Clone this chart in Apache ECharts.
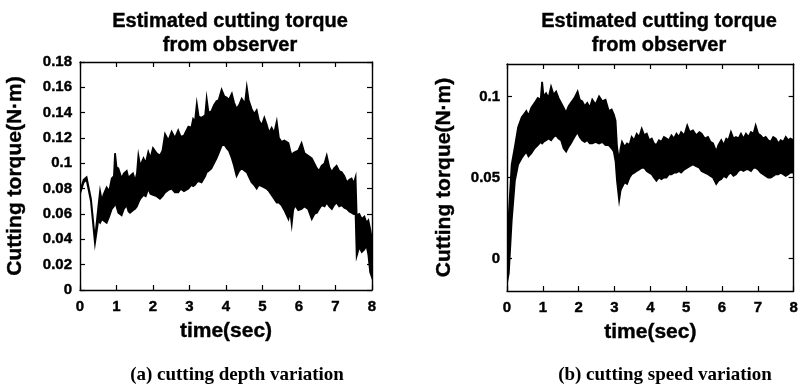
<!DOCTYPE html>
<html>
<head>
<meta charset="utf-8">
<script src="https://cdn.jsdelivr.net/npm/echarts@6/dist/echarts.min.js"></script>
<style>html,body{margin:0;padding:0;background:#fff;}#c{width:801px;height:388px;}</style>
</head>
<body>
<div id="c"></div>
<script>
// ---- Data ----
const titleText = 'Estimated cutting torque\nfrom observer';
const yName = 'Cutting torque(N\u00b7m)';
const xName = 'time(sec)';
const captionA = '(a) cutting depth variation';
const captionB = '(b) cutting speed variation';
const xTicks = [0, 1, 2, 3, 4, 5, 6, 7, 8];
const yTicksA = [0, 0.02, 0.04, 0.06, 0.08, 0.1, 0.12, 0.14, 0.16, 0.18];
const yTicksB = [0, 0.05, 0.1];

// (a) cutting depth variation: upper / lower envelope of the noisy trace
const timeA = [0,0.1,0.18,0.3,0.41,0.5,0.55,0.6,0.64,0.73,
  0.8,0.87,0.93,0.96,1.0,1.05,1.14,1.2,1.28,1.33,
  1.37,1.45,1.51,1.56,1.6,1.65,1.74,1.8,1.87,1.93,
  2.0,2.1,2.19,2.26,2.33,2.42,2.51,2.6,2.69,2.76,
  2.85,2.97,3.05,3.1,3.15,3.2,3.25,3.33,3.43,3.47,
  3.52,3.6,3.67,3.74,3.8,3.88,3.95,4.02,4.08,4.16,
  4.22,4.29,4.36,4.43,4.52,4.57,4.62,4.7,4.77,4.84,
  4.9,4.98,5.05,5.11,5.18,5.25,5.32,5.39,5.45,5.52,
  5.6,5.71,5.76,5.8,5.84,5.89,5.98,6.07,6.15,6.25,
  6.35,6.42,6.49,6.55,6.62,6.7,6.76,6.83,6.9,6.96,
  7.03,7.1,7.17,7.24,7.31,7.38,7.44,7.5,7.55,7.58,
  7.65,7.72,7.79,7.85,7.9,7.95,8.0];
const upperA = [0.078,0.087,0.089,0.072,0.040,0.065,0.078,0.070,0.075,0.081,
  0.078,0.088,0.090,0.108,0.097,0.096,0.088,0.092,0.094,0.088,
  0.090,0.092,0.086,0.092,0.106,0.098,0.104,0.100,0.109,0.104,
  0.112,0.108,0.106,0.110,0.123,0.118,0.125,0.120,0.126,0.121,
  0.122,0.129,0.128,0.135,0.133,0.147,0.137,0.136,0.138,0.151,
  0.140,0.141,0.146,0.149,0.150,0.158,0.153,0.152,0.150,0.155,
  0.148,0.143,0.146,0.151,0.147,0.160,0.150,0.143,0.139,0.142,
  0.134,0.130,0.136,0.131,0.124,0.128,0.124,0.133,0.120,0.117,
  0.118,0.116,0.110,0.106,0.108,0.109,0.110,0.116,0.108,0.106,
  0.104,0.100,0.096,0.094,0.098,0.100,0.106,0.097,0.093,0.096,
  0.098,0.094,0.093,0.090,0.085,0.087,0.088,0.084,0.089,0.059,
  0.060,0.056,0.058,0.053,0.055,0.048,0.040];
const lowerA = [0.076,0.085,0.087,0.070,0.037,0.055,0.053,0.056,0.055,0.053,
  0.058,0.064,0.066,0.069,0.066,0.061,0.059,0.064,0.067,0.062,
  0.061,0.063,0.064,0.066,0.069,0.072,0.075,0.074,0.080,0.076,
  0.075,0.074,0.072,0.074,0.077,0.079,0.080,0.077,0.077,0.080,
  0.078,0.080,0.083,0.082,0.083,0.085,0.086,0.085,0.090,0.093,
  0.094,0.096,0.100,0.104,0.108,0.114,0.115,0.112,0.110,0.104,
  0.098,0.090,0.094,0.096,0.094,0.093,0.090,0.085,0.083,0.080,
  0.083,0.082,0.081,0.080,0.078,0.075,0.072,0.069,0.069,0.067,
  0.063,0.056,0.062,0.052,0.063,0.067,0.063,0.064,0.066,0.064,
  0.056,0.060,0.061,0.064,0.067,0.066,0.069,0.066,0.064,0.067,
  0.069,0.066,0.067,0.065,0.064,0.062,0.061,0.060,0.060,0.027,
  0.034,0.030,0.032,0.035,0.028,0.014,0.010];

// (b) cutting speed variation: upper / lower envelope of the noisy trace
const timeB = [0,0.05,0.13,0.22,0.31,0.41,0.54,0.6,0.68,0.77,
  0.86,0.94,0.98,1.02,1.09,1.16,1.23,1.3,1.37,1.44,
  1.51,1.58,1.65,1.72,1.78,1.88,1.97,2.03,2.1,2.17,
  2.24,2.31,2.38,2.47,2.57,2.66,2.75,2.84,2.92,2.98,
  3.03,3.07,3.13,3.17,3.21,3.28,3.35,3.42,3.48,3.55,
  3.62,3.69,3.76,3.83,3.9,3.97,4.04,4.1,4.17,4.24,
  4.31,4.38,4.45,4.52,4.59,4.66,4.73,4.8,4.86,4.95,
  5.03,5.1,5.19,5.28,5.37,5.43,5.52,5.61,5.68,5.75,
  5.84,5.9,5.98,6.05,6.12,6.18,6.25,6.32,6.39,6.46,
  6.53,6.6,6.67,6.74,6.81,6.88,6.94,7.01,7.08,7.15,
  7.22,7.29,7.36,7.43,7.5,7.57,7.64,7.71,7.78,7.85,
  7.91,8.0];
const upperB = [-0.005,0.027,0.058,0.069,0.081,0.087,0.091,0.088,0.093,0.096,
  0.099,0.098,0.109,0.100,0.102,0.099,0.106,0.101,0.103,0.099,
  0.096,0.093,0.090,0.094,0.096,0.099,0.103,0.098,0.097,0.094,
  0.096,0.093,0.098,0.095,0.100,0.097,0.098,0.091,0.092,0.089,
  0.085,0.069,0.060,0.068,0.072,0.069,0.071,0.070,0.075,0.073,
  0.077,0.075,0.080,0.076,0.077,0.073,0.074,0.071,0.070,0.073,
  0.072,0.075,0.074,0.073,0.076,0.074,0.077,0.075,0.078,0.076,
  0.082,0.078,0.079,0.076,0.078,0.077,0.074,0.075,0.072,0.071,
  0.066,0.070,0.073,0.070,0.074,0.073,0.078,0.074,0.075,0.074,
  0.077,0.074,0.077,0.075,0.078,0.077,0.082,0.077,0.076,0.074,
  0.075,0.073,0.072,0.075,0.074,0.071,0.073,0.072,0.075,0.073,
  0.074,0.073];
const lowerB = [-0.015,-0.009,0.023,0.048,0.058,0.062,0.066,0.063,0.065,0.068,
  0.070,0.072,0.071,0.072,0.073,0.074,0.073,0.075,0.076,0.074,
  0.073,0.068,0.066,0.069,0.071,0.075,0.078,0.075,0.073,0.072,
  0.073,0.071,0.071,0.072,0.071,0.072,0.070,0.070,0.068,0.066,
  0.060,0.048,0.036,0.042,0.044,0.047,0.046,0.050,0.052,0.053,
  0.054,0.055,0.056,0.056,0.054,0.053,0.052,0.050,0.048,0.050,
  0.049,0.050,0.050,0.052,0.052,0.053,0.053,0.054,0.053,0.055,
  0.056,0.057,0.058,0.057,0.056,0.054,0.053,0.052,0.051,0.050,
  0.046,0.048,0.049,0.051,0.050,0.052,0.053,0.051,0.052,0.054,
  0.055,0.054,0.055,0.055,0.054,0.056,0.056,0.055,0.053,0.052,
  0.051,0.050,0.050,0.051,0.052,0.052,0.053,0.052,0.051,0.052,
  0.053,0.053];

// ---- Chart ----
const SANS = 'Liberation Sans';
const SERIF = 'Liberation Serif';

function bandData(t, lo, hi) {
  return t.map((x, i) => [x, lo[i], hi[i]]);
}
function makeBand(idx, rows) {
  return {
    type: 'custom',
    coordinateSystem: 'cartesian2d',
    xAxisIndex: idx * 2,
    yAxisIndex: idx * 2,
    clip: true,
    silent: true,
    z: 5,
    data: [rows[0]],
    renderItem: function (params, api) {
      const up = [], dn = [];
      for (const r of rows) {
        up.push(api.coord([r[0], r[2]]));
        dn.push(api.coord([r[0], r[1]]));
      }
      return {
        type: 'polygon',
        shape: { points: up.concat(dn.reverse()) },
        style: { fill: '#000', stroke: '#000', lineWidth: 1.8, lineJoin: 'miter' }
      };
    }
  };
}

const heavy = { textBorderColor: '#000', textBorderWidth: 0.4 };
const tickStyle = { show: true, inside: true, length: 5, lineStyle: { color: '#000', width: 1.2 } };
const lineStyle = { show: true, onZero: false, lineStyle: { color: '#000', width: 1.4 } };
const labelStyle = Object.assign({ color: '#000', fontFamily: SANS, fontWeight: 'bold', fontSize: 15 }, heavy);
const nameStyle = Object.assign({ color: '#000', fontFamily: SANS, fontWeight: 'bold', fontSize: 21 }, heavy);
const titleStyle = Object.assign({ fontFamily: SANS, fontWeight: 'bold', fontSize: 20, lineHeight: 24, color: '#000' }, heavy);
const capStyle = { fontFamily: SERIF, fontWeight: 'bold', fontSize: 19, color: '#000' };

function xAxes(g) {
  return [
    { type: 'value', gridIndex: g, min: 0, max: 8, interval: 1, position: 'bottom',
      axisLine: lineStyle, axisTick: tickStyle, splitLine: { show: false },
      axisLabel: Object.assign({ margin: 9, customValues: xTicks }, labelStyle),
      name: xName, nameLocation: 'middle', nameGap: 31, nameTextStyle: nameStyle },
    { type: 'value', gridIndex: g, min: 0, max: 8, interval: 1, position: 'top',
      axisLine: lineStyle, axisTick: tickStyle, splitLine: { show: false },
      axisLabel: { show: false } }
  ];
}
function yAxes(g, min, max, interval, ticks, nameGap, margin) {
  const lab = Object.assign({ margin: margin }, labelStyle);
  const tk = Object.assign({}, tickStyle);
  if (ticks) { lab.customValues = ticks; tk.customValues = ticks; }
  const base = { type: 'value', gridIndex: g, min: min, max: max, splitLine: { show: false } };
  if (interval) base.interval = interval;
  return [
    Object.assign({}, base, { position: 'left', axisLine: lineStyle, axisTick: tk, axisLabel: lab,
      name: yName, nameLocation: 'middle', nameGap: nameGap, nameTextStyle: nameStyle }),
    Object.assign({}, base, { position: 'right', axisLine: lineStyle, axisTick: tk, axisLabel: { show: false } })
  ];
}

const chart = echarts.init(document.getElementById('c'), null, { renderer: 'canvas' });
chart.setOption({
  backgroundColor: '#fff',
  animation: false,
  title: [
    { text: titleText, left: 225, top: 4, textAlign: 'center', textStyle: titleStyle },
    { text: titleText, left: 654, top: 4, textAlign: 'center', textStyle: titleStyle },
    { text: captionA, left: 232, top: 361, textAlign: 'center', textStyle: capStyle },
    { text: captionB, left: 660, top: 361, textAlign: 'center', textStyle: capStyle }
  ],
  grid: [
    { left: 80, top: 62, width: 292, height: 228, show: false },
    { left: 507, top: 64, width: 290, height: 227, show: false }
  ],
  xAxis: xAxes(0).concat(xAxes(1)),
  yAxis: yAxes(0, 0, 0.18, 0.02, null, 54, 8).concat(yAxes(1, -0.02, 0.12, null, yTicksB, 52, 7)),
  series: [
    makeBand(0, bandData(timeA, lowerA, upperA)),
    makeBand(1, bandData(timeB, lowerB, upperB))
  ]
});
</script>
</body>
</html>
